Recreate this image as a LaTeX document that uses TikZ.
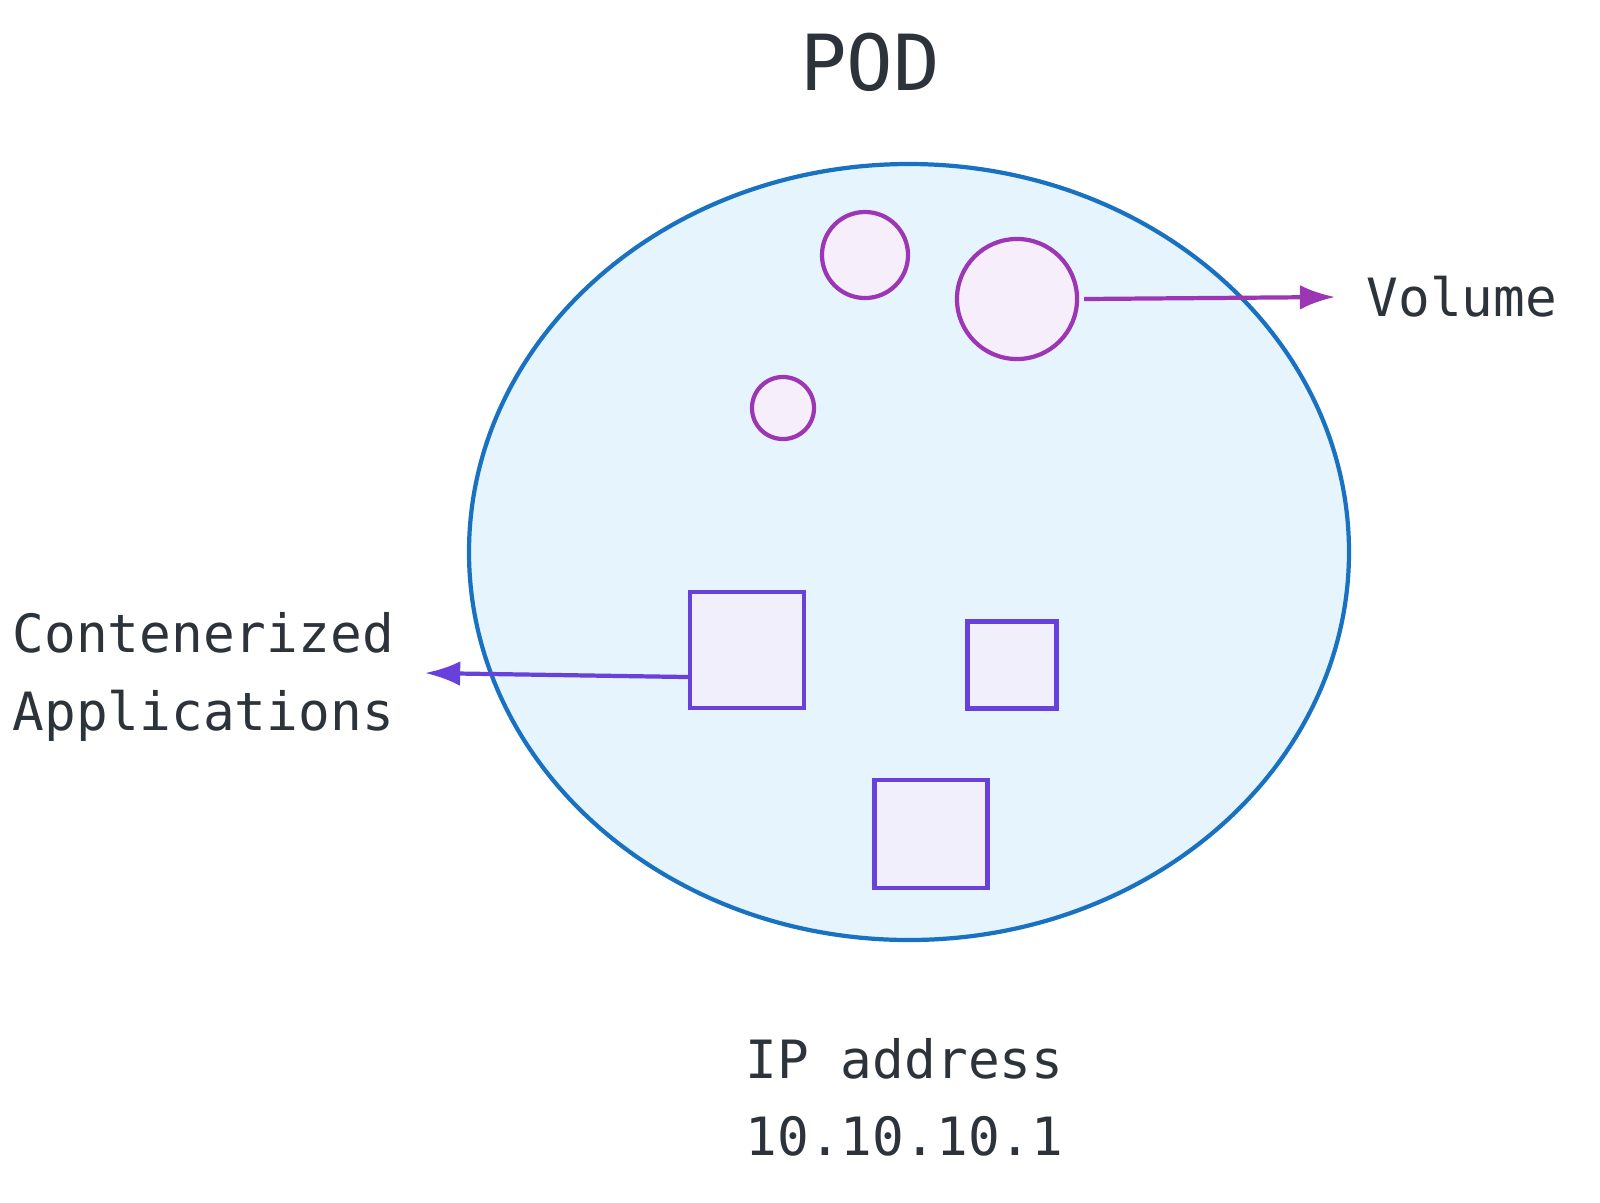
\documentclass[tikz,border=0pt]{standalone}
\usepackage{fontspec}
\setmonofont{DejaVu Sans Mono}
\usetikzlibrary{arrows.meta}
\definecolor{txt}{HTML}{2D333A}
\definecolor{podfill}{HTML}{E5F4FD}
\definecolor{podline}{HTML}{1971C2}
\definecolor{volfill}{HTML}{F6EFFB}
\definecolor{volline}{HTML}{9C36B5}
\definecolor{appfill}{HTML}{F1EFFC}
\definecolor{appline}{HTML}{6741D9}
\newcommand{\msp}{\phantom{a}}
\tikzset{
  vol/.style={circle, draw=volline, fill=volfill, line width=1.2pt, inner sep=0pt},
  app/.style={draw=appline, fill=appfill, line width=1.2pt, inner sep=0pt},
  lbl/.style={text=txt, font=\ttfamily\fontsize{15}{20}\selectfont, inner sep=0pt, align=left}
}
\begin{document}
\begin{tikzpicture}[x=0.01cm, y=-0.01cm]
    \node[text=txt, font=\ttfamily\fontsize{22}{26}\selectfont] (title) at (870,62) {POD};
    \draw[draw=podline, fill=podfill, line width=1.2pt] (909,552) ellipse [x radius=440, y radius=388];

    % volumes
    \node[vol, minimum size=0.86cm] (v1) at (865,255) {};
    \node[vol, minimum size=1.2cm] (v2) at (1017,299) {};
    \node[vol, minimum size=0.62cm] (v3) at (783,408) {};

    % containers
    \node[app, minimum width=1.14cm, minimum height=1.16cm] (c1) at (747,650) {};
    \node[app, minimum width=0.89cm, minimum height=0.87cm] (c2) at (1012,665) {};
    \node[app, minimum width=1.13cm, minimum height=1.08cm] (c3) at (931,834) {};

    \node[lbl, anchor=west] (vlabel) at (1366,297) {Volume};
    \coordinate (vend) at (1335,297);
    \draw[volline, line width=1.2pt, -{Latex[length=10pt,width=7pt]}] ([xshift=0.05cm]v2.east) -- (vend);

    \node[lbl, anchor=west] (clabel) at (12,677) {Contenerized\\[2pt]Applications};
    \coordinate (cend) at (425,673);
    \draw[appline, line width=1.2pt, -{Latex[length=10pt,width=7pt]}] ([yshift=-0.27cm]c1.west) -- (cend);

    \node[lbl, anchor=west] (ip) at (745,1097) {IP\msp{}address\\[2pt]10.10.10.1};

    \pgfresetboundingbox
    \useasboundingbox (0,0) rectangle (1600,1202);
\end{tikzpicture}
\end{document}
